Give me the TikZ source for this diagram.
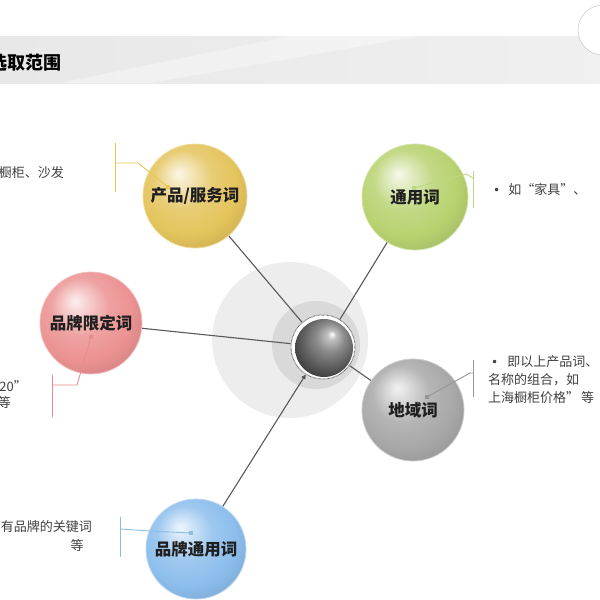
\documentclass[tikz,border=0pt]{standalone}
\usepackage{fontspec}
\newfontfamily\cjk{Noto Sans CJK SC}
\newfontfamily\dejavu{DejaVu Sans}
\usetikzlibrary{arrows.meta}
\colorlet{sphc}{gray}
\definecolor{yel}{RGB}{228,196,92}
\definecolor{grn}{RGB}{184,210,112}
\definecolor{pnk}{RGB}{236,146,146}
\definecolor{gry}{RGB}{168,168,168}
\definecolor{blu}{RGB}{140,190,236}
\definecolor{yelL}{RGB}{232,200,80}
\definecolor{grnL}{RGB}{190,215,130}
\definecolor{pnkL}{RGB}{232,140,140}
\definecolor{gryL}{RGB}{150,150,150}
\definecolor{bluL}{RGB}{140,190,224}
\pgfdeclareradialshading[sphc]{glass}{\pgfqpoint{-8bp}{11bp}}{color(0bp)=(sphc!15!white); color(5bp)=(sphc!40!white); color(14bp)=(sphc!85!white); color(24bp)=(sphc); color(32bp)=(sphc!90!black); color(37bp)=(sphc!82!black); color(50bp)=(sphc!82!black)}
\pgfdeclareradialshading{metal}{\pgfqpoint{7bp}{12bp}}{color(0bp)=(white); color(4bp)=(black!25); color(12bp)=(black!45); color(22bp)=(black!62); color(32bp)=(black!78); color(50bp)=(black!78)}
\tikzset{
  glassball/.code={\colorlet{sphc}{#1}\tikzset{shade,shading=glass}},
  sphere/.style={circle, inner sep=0pt, minimum size=#1,
    font=\cjk\bfseries\fontsize{16.5}{18}\selectfont, text=black!88},
  conn/.style={draw=black!65, line width=1.1pt},
  lead/.style={line width=0.9pt},
  dot/.style={rectangle, inner sep=0pt, minimum size=4pt},
  body/.style={font=\cjk\fontsize{13}{18}\selectfont, text=black!75, inner sep=0pt},
}
\newcommand\bul{{\dejavu\fontsize{12}{12}\selectfont •}}
\begin{document}
\begin{tikzpicture}[x=1pt,y=-1pt]
\useasboundingbox (0,0) rectangle (600,600);
\clip (0,0) rectangle (600,600);
\fill[white] (0,0) rectangle (600,600);
% header band
\shade[left color=black!9, right color=black!6] (0,36) rectangle (600,83);
\fill[white, opacity=0.35] (60,83) -- (290,36) -- (420,36) -- (150,83) -- cycle;
\draw[black!25, fill=white] (603,30) circle[radius=25pt];
\node[font=\cjk\bfseries\fontsize{18}{20}\selectfont, anchor=west, inner sep=0pt] (title) at (-11,63) {选取范围};
% central backdrop
\fill[black!7] (290,340) circle[radius=78pt];
\fill[black!15] (316,345) circle[radius=44pt];
\node[circle, minimum size=64pt, inner sep=0pt, fill=white, draw=black!60, line width=1pt, dash pattern=on 0.6pt off 0.7pt] (ring) at (323,347) {};
\node[circle, minimum size=58pt, inner sep=0pt, shade, shading=metal] (hub) at (324,348) {};
% spheres
\node[sphere=104pt, glassball=yel, draw=yel!60!white, line width=0.8pt] (prod) at (195,196) {产品/服务词};
\node[sphere=106pt, glassball=grn, draw=grn!60!white, line width=0.8pt] (gen) at (415,197) {通用词};
\node[sphere=102pt, glassball=pnk, draw=pnk!60!white, line width=0.8pt] (blim) at (91,323) {品牌限定词};
\node[sphere=102pt, glassball=gry, draw=gry!60!white, line width=0.8pt] (reg) at (413,410) {地域词};
\node[sphere=100pt, glassball=blu, draw=blu!60!white, line width=0.8pt] (bgen) at (196,549) {品牌通用词};
% connectors
\draw[conn] (ring) -- (prod);
\draw[conn] (ring) -- (gen);
\draw[conn] (ring) -- (blim);
\draw[conn] (ring) -- (reg);
\draw[conn, {Triangle[length=4.5pt,width=4.5pt]}-] (ring) -- (bgen);
% leaders
\node[dot, fill=yelL] (d1) at (168,187) {};
\coordinate (k1) at (138,163); \coordinate (b1) at (115,163);
\coordinate (b1t) at (115,143); \coordinate (b1b) at (115,192);
\draw[lead, yelL] (d1.center) -- (k1) -- (b1);
\draw[lead, yelL] (b1t) -- (b1b);
\node[dot, fill=grnL] (d2) at (414,188) {};
\coordinate (k2) at (466,174); \coordinate (b2) at (473,178);
\coordinate (b2t) at (473,171); \coordinate (b2b) at (473,208);
\draw[lead, grnL] (d2.center) -- (k2) -- (b2);
\draw[lead, grnL] (b2t) -- (b2b);
\node[dot, fill=pnkL] (d3) at (91,337) {};
\coordinate (k3) at (77,385); \coordinate (b3) at (52,385);
\coordinate (b3t) at (52,375); \coordinate (b3b) at (52,417);
\draw[lead, pnkL] (d3.center) -- (k3) -- (b3);
\draw[lead, pnkL] (b3t) -- (b3b);
\node[dot, fill=gryL] (d4) at (427,397) {};
\coordinate (k4) at (470,373); \coordinate (b4) at (473,373);
\coordinate (b4t) at (473,360); \coordinate (b4b) at (473,397);
\draw[lead, gryL] (d4.center) -- (k4) -- (b4);
\draw[lead, gryL] (b4t) -- (b4b);
\node[dot, fill=bluL] (d5) at (191,533) {};
\coordinate (k5) at (150,531); \coordinate (b5) at (120,529);
\coordinate (b5t) at (120,517); \coordinate (b5b) at (120,557);
\draw[lead, bluL] (d5.center) -- (k5) -- (b5);
\draw[lead, bluL] (b5t) -- (b5b);
% texts
\node[body, anchor=east] (t1) at (64,173) {橱柜、沙发};
\node[body, anchor=west] (t2) at (493,190) {\bul\hspace{8pt}如“家具”、};
\node[body, anchor=east] (t3a) at (27,386) {2020”};
\node[body, anchor=east] (t3b) at (11,403) {等};
\node[body, anchor=west] (t4a) at (491,362) {\bul\hspace{9pt}即以上产品词、};
\node[body, anchor=west] (t4b) at (488,380) {名称的组合，如};
\node[body, anchor=west] (t4c) at (488,398) {上海橱柜价格”\hspace{2pt}等};
\node[body, anchor=east] (t5a) at (92,527) {含有品牌的关键词};
\node[body] (t5b) at (77,546) {等};
\end{tikzpicture}
\end{document}
